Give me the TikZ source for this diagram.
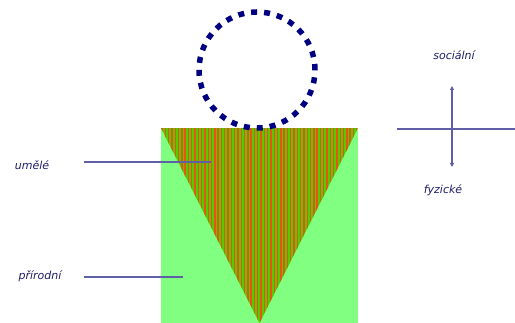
\documentclass[tikz,border=0pt]{standalone}
\usepackage{fontspec}
\setmainfont{DejaVu Sans}
\usetikzlibrary{arrows.meta}
\definecolor{lightgr}{RGB}{128,255,128}
\definecolor{stripegr}{RGB}{90,200,0}
\definecolor{stripered}{RGB}{230,85,20}
\definecolor{navy}{RGB}{0,0,128}
\definecolor{txt}{RGB}{30,30,105}
\definecolor{linec}{RGB}{95,95,165}
\tikzset{
  lbl/.style={font=\itshape\fontsize{11}{13}\selectfont, text=txt, inner sep=0pt},
  leader/.style={draw=linec, line width=1.1pt},
  axis/.style={draw=linec, line width=1.1pt}
}
\begin{document}
\begin{tikzpicture}[x=1pt,y=1pt]
\useasboundingbox (0,0) rectangle (515,323);
% green square
\fill[lightgr] (161,0) rectangle (358,195);
% striped triangle
\begin{scope}
\clip (161,195) -- (358,195) -- (259.5,0) -- cycle;
\fill[stripegr] (161,0) rectangle (358,195);
\foreach \i in {0,...,60} {
  \draw[stripered, line width=1.4pt] (162+\i*3.3,0) -- (162+\i*3.3,195);
}
\end{scope}
% dotted circle
\node[circle, draw=navy, line width=5.5pt, dash pattern=on 6pt off 7pt, minimum size=116pt, inner sep=0pt] (circ) at (257,253) {};
% labels
\node[lbl] (umele) at (32,158) {umělé};
\node[lbl] (prirodni) at (40,47) {přírodní};
\node[lbl] (socialni) at (454,268) {sociální};
\node[lbl] (fyzicke) at (443,133) {fyzické};
% leaders
\coordinate (u1) at (84,161);
\coordinate (u2) at (211,161);
\coordinate (p1) at (84,46);
\coordinate (p2) at (183,46);
\draw[leader] (u1) -- (u2);
\draw[leader] (p1) -- (p2);
% axes
\coordinate (h1) at (397,194);
\coordinate (h2) at (515,194);
\coordinate (vt) at (452,237);
\coordinate (vb) at (452,156);
\draw[axis] (h1) -- (h2);
\draw[axis, {Triangle[length=4pt,width=4pt]}-{Triangle[length=4pt,width=4pt]}] (vt) -- (vb);
\end{tikzpicture}
\end{document}
